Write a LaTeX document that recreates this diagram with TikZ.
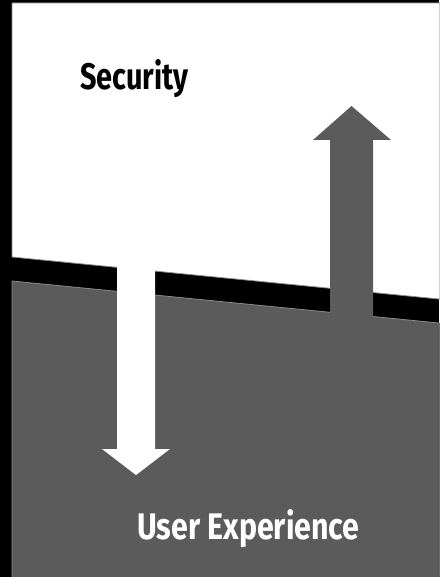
\documentclass[tikz,border=0pt]{standalone}
\usepackage{fontspec}
\newfontfamily\condfont{Fira Sans}[FakeStretch=0.78]
\newfontfamily\condfontw{Fira Sans}[FakeStretch=0.82]
\definecolor{panelgray}{HTML}{5B5B5B}
\definecolor{edgegray}{HTML}{8A8A8A}
\tikzset{
  panel/.style={draw=edgegray, line width=0.8pt},
  label/.style={anchor=base west, inner sep=0pt}
}
\begin{document}
\begin{tikzpicture}[x=1pt,y=-1pt]
\useasboundingbox (0,0) rectangle (439,577);
\fill[black] (0,0) rectangle (439,577);
% white (security) panel
\fill[white, panel] (12,3) -- (440,3) -- (440,299.1) -- (12,257) -- cycle;
% gray (user experience) panel
\fill[panelgray, panel] (12,281) -- (440,323.1) -- (440,578) -- (12,578) -- cycle;
% white down arrow
\fill[white] (117,262) -- (155,266) -- (155,449) -- (170,449) -- (136,475) -- (102,449) -- (117,449) -- cycle;
% gray up arrow
\fill[panelgray] (330,330) -- (330,140) -- (313,140) -- (351.5,106) -- (391,140) -- (373,140) -- (373,330) -- cycle;
\node[label, text=black, font=\condfont\bfseries\fontsize{37}{40}\selectfont] (sec) at (80,90) {Security};
\node[label, text=white, font=\condfontw\bfseries\fontsize{37}{40}\selectfont] (ux) at (137,539) {User Experience};
\end{tikzpicture}
\end{document}
